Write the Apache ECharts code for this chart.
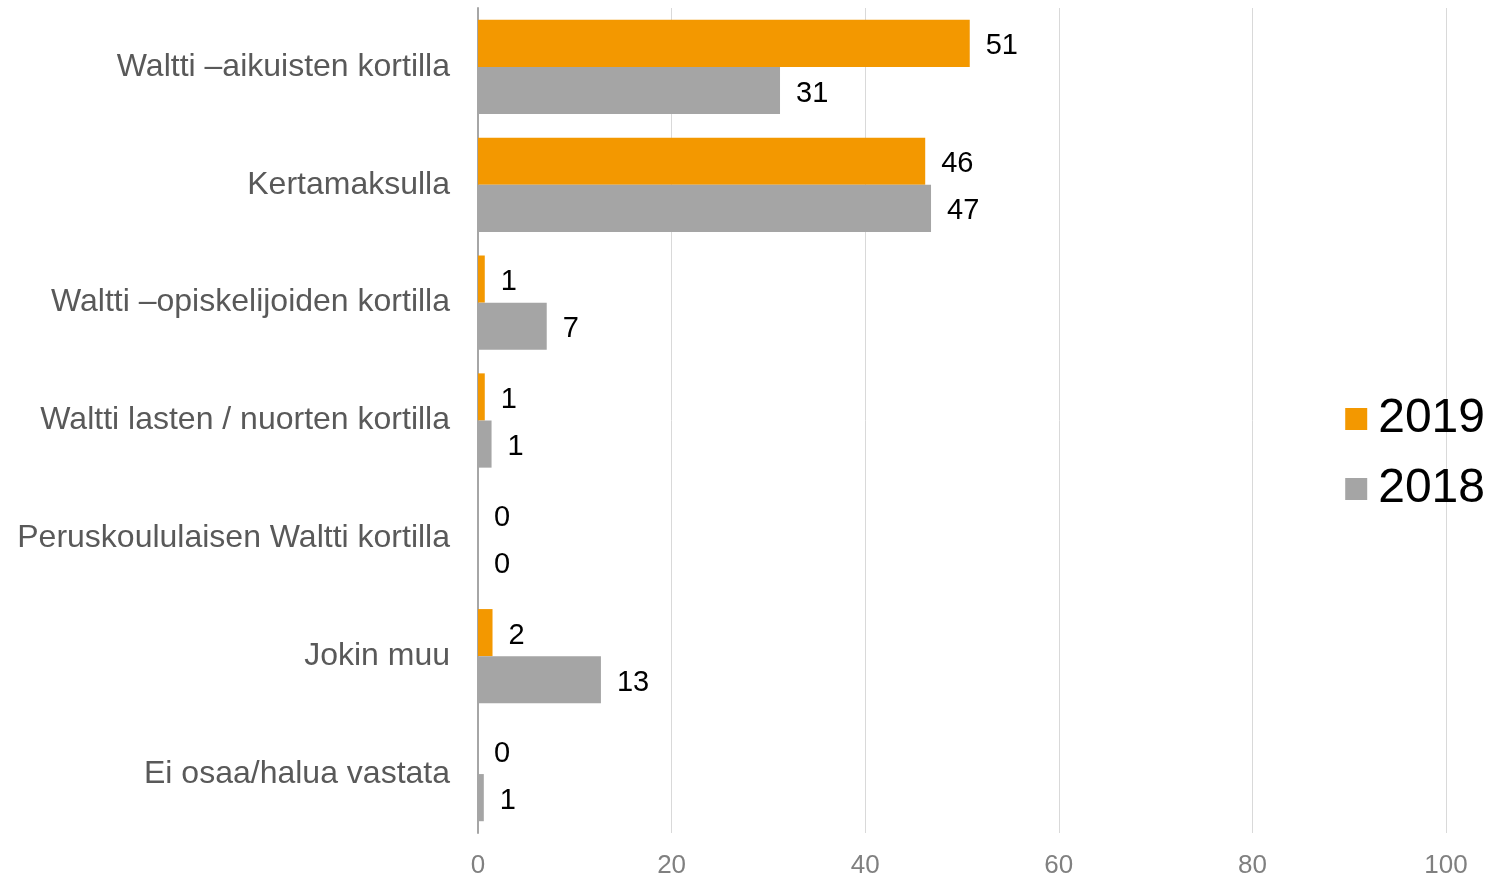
<!DOCTYPE html>
<html>
<head>
<meta charset="utf-8">
<script src="https://cdn.jsdelivr.net/npm/echarts@6/dist/echarts.min.js"></script>
<style>
  html, body { margin: 0; padding: 0; background: #fff; }
  #chart { width: 1493px; height: 877px; }
</style>
</head>
<body>
<div id="chart"></div>
<script>
var categories = [
    'Waltti –aikuisten kortilla',
    'Kertamaksulla',
    'Waltti –opiskelijoiden kortilla',
    'Waltti lasten / nuorten kortilla',
    'Peruskoululaisen Waltti kortilla',
    'Jokin muu',
    'Ei osaa/halua vastata'
];
var values2019 = [50.8, 46.2, 0.7, 0.7, 0, 1.5, 0];
var values2018 = [31.2, 46.8, 7.1, 1.4, 0, 12.7, 0.6];
var xTicks = [0, 20, 40, 60, 80, 100];

var FONT = '"Liberation Sans", Arial, sans-serif';

var chart = echarts.init(document.getElementById('chart'));

function barLabel() {
    return {
        show: true,
        position: 'right',
        distance: 16,
        offset: [0, 3],
        color: '#000',
        fontSize: 29,
        fontFamily: FONT,
        formatter: function (p) { return Math.round(p.value); }
    };
}

chart.setOption({
    backgroundColor: '#fff',
    animation: false,
    grid: { left: 478, right: 47, top: 8, bottom: 44, outerBoundsMode: 'none' },
    legend: {
        orient: 'vertical',
        right: 3,
        top: 390,
        itemWidth: 22,
        itemHeight: 22,
        itemGap: 22,
        icon: 'rect',
        textStyle: { fontSize: 48, color: '#000', fontFamily: FONT, padding: [0, 0, 0, 6] },
        data: ['2019', '2018']
    },
    xAxis: {
        type: 'value',
        min: xTicks[0],
        max: xTicks[xTicks.length - 1],
        interval: 20,
        axisLine: { show: false },
        axisTick: { show: false },
        splitLine: { lineStyle: { color: '#D9D9D9', width: 1 } },
        axisLabel: { color: '#808080', fontSize: 26, fontFamily: FONT, margin: 20 }
    },
    yAxis: {
        type: 'category',
        inverse: true,
        data: categories,
        axisLine: { lineStyle: { color: '#A6A6A6', width: 2 } },
        axisTick: { show: false },
        axisLabel: { color: '#595959', fontSize: 32, fontFamily: FONT, margin: 28, padding: [4, 0, 0, 0] }
    },
    series: [
        {
            name: '2019',
            type: 'bar',
            data: values2019,
            barGap: '0%',
            barCategoryGap: '20%',
            itemStyle: { color: '#F39800' },
            label: barLabel()
        },
        {
            name: '2018',
            type: 'bar',
            data: values2018,
            barGap: '0%',
            barCategoryGap: '20%',
            itemStyle: { color: '#A5A5A5' },
            label: barLabel()
        }
    ]
});
</script>
</body>
</html>
